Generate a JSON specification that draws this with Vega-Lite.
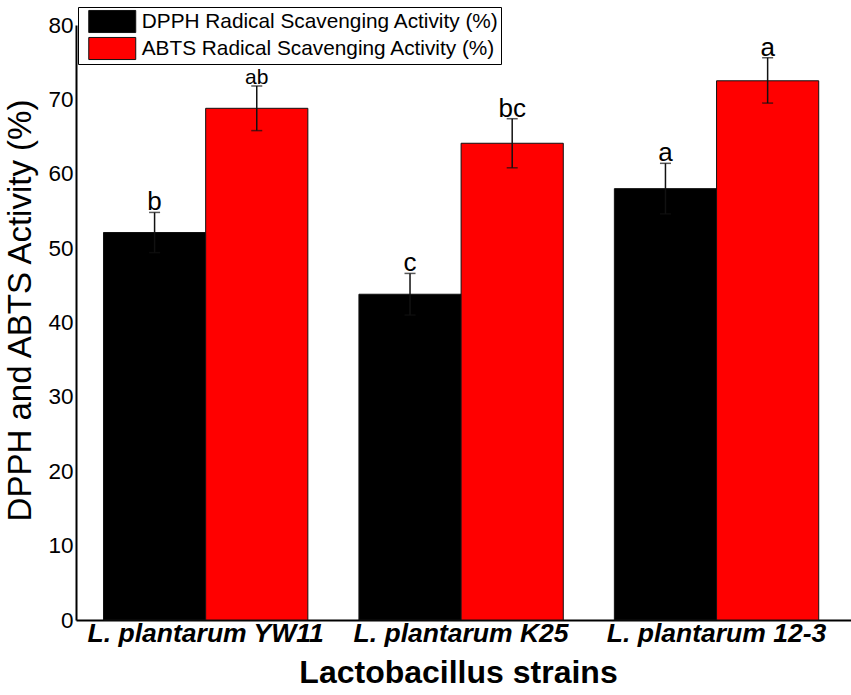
{
  "$schema": "https://vega.github.io/schema/vega-lite/v6.json",
  "autosize": {"type": "none"},
  "width": 775,
  "height": 595,
  "padding": {"left": 76, "top": 25, "right": 0, "bottom": 75},
  "background": "white",
  "config": {
    "view": {"stroke": null},
    "font": "Liberation Sans",
    "axis": {
      "grid": false,
      "ticks": false,
      "tickSize": 0,
      "domainColor": "black",
      "domainWidth": 2,
      "labelColor": "black",
      "titleColor": "black",
      "labelFont": "Liberation Sans",
      "titleFont": "Liberation Sans"
    }
  },
  "data": {
    "values": [
      {"strain": "L. plantarum YW11", "assay": "DPPH Radical Scavenging Activity (%)", "value": 52.1, "lo": 49.4, "hi": 54.8, "sig": "b"},
      {"strain": "L. plantarum YW11", "assay": "ABTS Radical Scavenging Activity (%)", "value": 68.8, "lo": 65.8, "hi": 71.8, "sig": "ab"},
      {"strain": "L. plantarum K25", "assay": "DPPH Radical Scavenging Activity (%)", "value": 43.8, "lo": 41.0, "hi": 46.6, "sig": "c"},
      {"strain": "L. plantarum K25", "assay": "ABTS Radical Scavenging Activity (%)", "value": 64.1, "lo": 60.8, "hi": 67.4, "sig": "bc"},
      {"strain": "L. plantarum 12-3", "assay": "DPPH Radical Scavenging Activity (%)", "value": 58.0, "lo": 54.6, "hi": 61.4, "sig": "a"},
      {"strain": "L. plantarum 12-3", "assay": "ABTS Radical Scavenging Activity (%)", "value": 72.5, "lo": 69.5, "hi": 75.6, "sig": "a"}
    ]
  },
  "encoding": {
    "x": {
      "field": "strain",
      "type": "nominal",
      "sort": ["L. plantarum YW11", "L. plantarum K25", "L. plantarum 12-3"],
      "scale": {"paddingInner": 0.2, "paddingOuter": 0.117, "align": 0.46},
      "axis": {
        "title": "Lactobacillus strains",
        "titleFontSize": 32,
        "titleFontWeight": "bold",
        "titlePadding": 11,
        "titleX": 382,
        "labelFontSize": 26.5,
        "labelFontWeight": "bold",
        "labelFontStyle": "italic",
        "labelPadding": 0,
        "labelLimit": 400,
        "labelAngle": 0
      }
    },
    "xOffset": {
      "field": "assay",
      "type": "nominal",
      "sort": ["DPPH Radical Scavenging Activity (%)", "ABTS Radical Scavenging Activity (%)"],
      "scale": {"paddingInner": 0, "paddingOuter": 0}
    }
  },
  "layer": [
    {
      "mark": {"type": "bar", "stroke": "#111", "strokeWidth": 1},
      "encoding": {
        "y": {
          "field": "value",
          "type": "quantitative",
          "scale": {"domain": [0, 80], "nice": false},
          "axis": {
            "title": "DPPH and ABTS Activity (%)",
            "titleFontSize": 33,
            "titleFontWeight": "normal",
            "titlePadding": 10,
            "titleY": 285,
            "labelFontSize": 22.5,
            "labelPadding": 3,
            "values": [0, 10, 20, 30, 40, 50, 60, 70, 80]
          }
        },
        "color": {
          "field": "assay",
          "type": "nominal",
          "sort": ["DPPH Radical Scavenging Activity (%)", "ABTS Radical Scavenging Activity (%)"],
          "scale": {"range": ["#000000", "#ff0000"]},
          "legend": {
            "title": null,
            "orient": "none",
            "legendX": 2,
            "legendY": -18,
            "direction": "vertical",
            "padding": 2,
            "strokeColor": "black",
            "fillColor": "white",
            "symbolType": "M-2,-0.94H2V0.94H-2Z",
            "symbolSize": 552,
            "symbolStrokeColor": "#111",
            "symbolStrokeWidth": 1,
            "symbolOffset": 19.75,
            "labelOffset": 17,
            "labelFontSize": 20.8,
            "labelColor": "black",
            "labelFont": "Liberation Sans",
            "labelLimit": 500,
            "rowPadding": 0
          }
        }
      }
    },
    {
      "mark": {"type": "rule", "color": "#111", "strokeWidth": 1.5},
      "encoding": {
        "y": {"field": "lo", "type": "quantitative"},
        "y2": {"field": "hi"}
      }
    },
    {
      "mark": {"type": "tick", "color": "#111", "thickness": 1.5, "size": 11},
      "encoding": {
        "y": {"field": "hi", "type": "quantitative"}
      }
    },
    {
      "mark": {"type": "tick", "color": "#111", "thickness": 1.5, "size": 11},
      "encoding": {
        "y": {"field": "lo", "type": "quantitative"}
      }
    },
    {
      "mark": {"type": "text", "baseline": "alphabetic", "dy": -2, "color": "black", "font": "Liberation Sans"},
      "encoding": {
        "y": {"field": "hi", "type": "quantitative"},
        "text": {"field": "sig"},
        "size": {"condition": {"test": "datum.sig == 'ab'", "value": 21}, "value": 26}
      }
    }
  ]
}
